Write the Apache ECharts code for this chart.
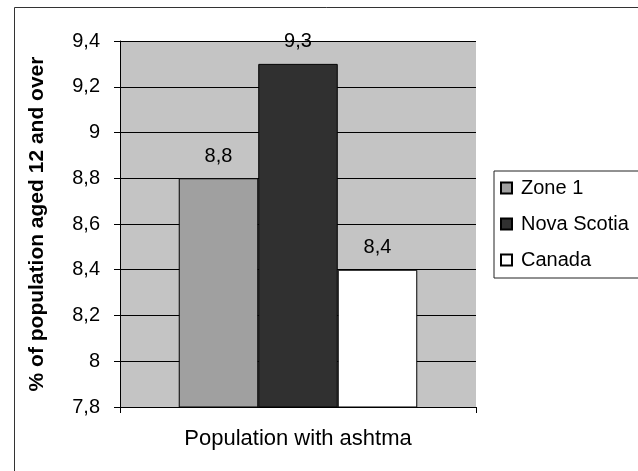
<!DOCTYPE html>
<html>
<head>
<meta charset="utf-8">
<script src="https://cdn.jsdelivr.net/npm/echarts@6/dist/echarts.min.js"></script>
<style>
html,body{margin:0;padding:0;background:#fff;}
#c{width:638px;height:471px;}
</style>
</head>
<body>
<div id="c"></div>
<script>
const categories = ["Population with ashtma"];
const seriesNames = ["Zone 1", "Nova Scotia", "Canada"];
const zone1 = [8.8];
const novaScotia = [9.3];
const canada = [8.4];
const yTicks = { min: 7.8, max: 9.4, step: 0.2 };
const yTitle = "% of population aged 12 and over";

const FONT = '"Liberation Sans", Arial, sans-serif';
const fmt = v => Number(Number(v).toFixed(1)).toString().replace('.', ',');

const chart = echarts.init(document.getElementById('c'), null, { renderer: 'canvas' });
const labelCfg = {
  show: true, position: 'top', distance: 12,
  color: '#000', fontFamily: FONT, fontSize: 20,
  formatter: p => fmt(p.value)
};
chart.setOption({
  animation: false,
  backgroundColor: '#fff',
  graphic: [{
    type: 'rect', left: 12, top: 5, z: -1,
    shape: { width: 700, height: 520 },
    style: { fill: 'none', stroke: '#333', lineWidth: 1 }
  }],
  grid: {
    left: 120, right: 162, top: 41, bottom: 64,
    show: true, backgroundColor: '#c4c4c4', borderWidth: 0
  },
  legend: {
    orient: 'vertical', left: 494, top: 171,
    backgroundColor: '#fff',
    borderColor: '#222', borderWidth: 1,
    padding: [7, 12, 8, 6],
    itemWidth: 11, itemHeight: 11, itemGap: 16,
    icon: 'rect',
    textStyle: { fontFamily: FONT, fontSize: 20, color: '#000', padding: [0, 0, 0, 4] },
    data: seriesNames
  },
  xAxis: {
    type: 'category', data: categories,
    axisLine: { show: true, lineStyle: { color: '#000', width: 1 } },
    axisTick: { show: true, length: 6, lineStyle: { color: '#000' } },
    axisLabel: { margin: 21, fontFamily: FONT, fontSize: 22, color: '#000' },
    splitLine: { show: false }
  },
  yAxis: {
    type: 'value', min: yTicks.min, max: yTicks.max, interval: yTicks.step,
    name: yTitle, nameLocation: 'middle', nameGap: 72,
    nameTextStyle: { fontFamily: FONT, fontSize: 21, fontWeight: 'bold', color: '#000' },
    axisLine: { show: true, lineStyle: { color: '#000', width: 1 } },
    axisTick: { show: true, length: 6, lineStyle: { color: '#000' } },
    axisLabel: { margin: 20, fontFamily: FONT, fontSize: 20, color: '#000', formatter: fmt },
    splitLine: { show: true, lineStyle: { color: '#000', width: 1 } }
  },
  series: [
    { name: seriesNames[0], type: 'bar', data: zone1, barGap: '0%', barCategoryGap: '33%',
      itemStyle: { color: '#a0a0a0', borderColor: '#000', borderWidth: 1 }, label: labelCfg },
    { name: seriesNames[1], type: 'bar', data: novaScotia, barGap: '0%', barCategoryGap: '33%',
      itemStyle: { color: '#303030', borderColor: '#000', borderWidth: 1 }, label: labelCfg },
    { name: seriesNames[2], type: 'bar', data: canada, barGap: '0%', barCategoryGap: '33%',
      itemStyle: { color: '#ffffff', borderColor: '#000', borderWidth: 1 }, label: labelCfg }
  ]
});
</script>
</body>
</html>
